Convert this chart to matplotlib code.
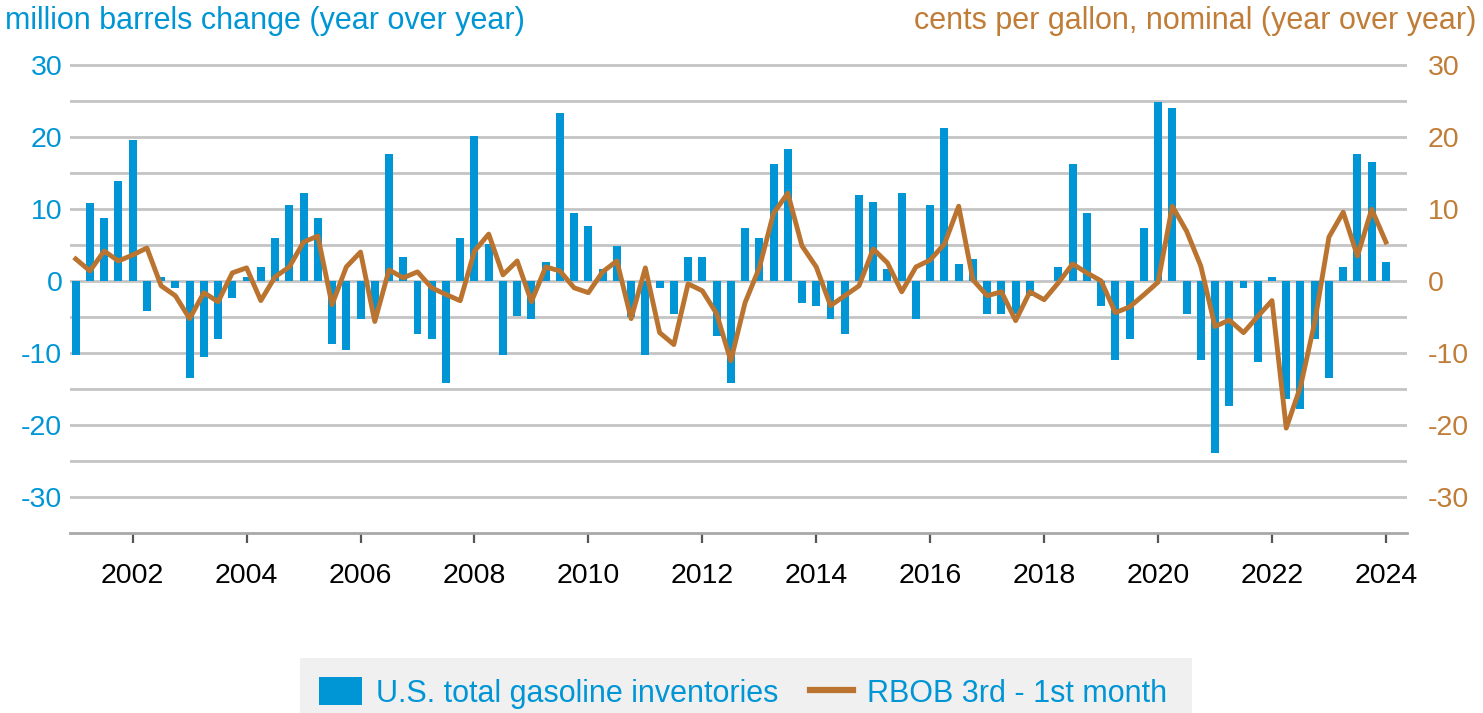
import matplotlib
matplotlib.use("Agg")
import matplotlib.pyplot as plt
import numpy as np
from matplotlib.patches import Rectangle, Patch
from matplotlib.lines import Line2D

plt.rcParams['font.family'] = ['Liberation Sans', 'DejaVu Sans']

# Quarterly observations, 2001 Q1 .. 2024 Q1
start_year = 2001.0
inventories = [
    -10.3, 10.9, 8.7, 13.85, 19.6,
    -4.2, 0.6, -0.9, -13.45, -10.55,
    -8.05, -2.35, 0.6, 1.97, 5.98,
    10.5, 12.3, 8.7, -8.75, -9.6,
    -5.2, -4.5, 17.7, 3.36, -7.4,
    -8.05, -14.15, 5.98, 20.2, 5.15,
    -10.3, -4.9, -5.2, 2.67, 23.4,
    9.43, 7.64, 1.7, 4.88, -5.0,
    -10.3, -0.9, -4.5, 3.36, 3.36,
    -7.65, -14.15, 7.36, 5.98, 16.3,
    18.4, -3.1, -3.4, -5.2, -7.4,
    11.9, 10.95, 1.7, 12.3, -5.2,
    10.5, 21.3, 2.4, 3.08, -4.5,
    -4.5, -4.5, -2.0, 0.0, 1.97,
    16.3, 9.43, -3.4, -10.95, -8.05,
    7.36, 24.9, 24.1, -4.5, -10.95,
    -23.8, -17.3, -0.9, -11.25, 0.6,
    -16.35, -17.7, -8.05, -13.45, 1.97,
    17.7, 16.6, 2.67,
]
rbob_spread = [
    3.08, 1.42, 4.18, 2.8, 3.63,
    4.6, -0.65, -2.03, -5.2, -1.6,
    -2.86, 1.15, 1.84, -2.7, 0.6,
    1.97, 5.43, 6.26, -3.27, 1.97,
    4.04, -5.6, 1.56, 0.46, 1.29,
    -0.93, -1.85, -2.72, 4.18, 6.53,
    0.87, 2.8, -2.86, 1.97, 1.42,
    -0.93, -1.6, 1.29, 2.8, -5.2,
    1.84, -7.14, -8.8, -0.37, -1.34,
    -4.5, -11.05, -3.0, 1.84, 9.43,
    12.2, 4.88, 1.97, -3.4, -2.03,
    -0.65, 4.46, 2.53, -1.48, 1.97,
    2.94, 5.15, 10.4, 0.18, -2.03,
    -1.48, -5.48, -1.48, -2.58, -0.23,
    2.39, 1.15, 0.04, -4.38, -3.58,
    -1.9, -0.14, 10.4, 6.95, 2.1,
    -6.3, -5.4, -7.15, -4.9, -2.7,
    -20.4, -14.65, -5.7, 6.12, 9.57,
    3.49, 9.98, 5.43,
]
year_ticks = list(range(2002, 2025, 2))
y_ticks = [-30, -20, -10, 0, 10, 20, 30]
grid_levels = list(range(-30, 31, 5))

left_title = "million barrels change (year over year)"
right_title = "cents per gallon, nominal (year over year)"
bar_label = "U.S. total gasoline inventories"
line_label = "RBOB 3rd - 1st month"

BLUE = '#0096D6'
COPPER = '#BB7430'
BROWN_TXT = '#C07D38'
GRID = '#C4C4C4'
FS_NUM = 20.5
FS_TXT = 22

x = start_year + 0.25 * np.arange(len(inventories))

W, H = 1483, 713
fig = plt.figure(figsize=(W / 100, H / 100), dpi=100)
ax_top_px, ax_bot_px = 61.4, 533.3
ax_l_px, ax_r_px = 70, 1407
ax = fig.add_axes([ax_l_px / W, 1 - ax_bot_px / H, (ax_r_px - ax_l_px) / W, (ax_bot_px - ax_top_px) / H])

ax.set_xlim(2000.9, 2024.37)
ax.set_ylim(-35, 30.5)

for g in grid_levels:
    ax.axhline(g, color=GRID, lw=2.0, zorder=0)

ax.bar(x, inventories, width=0.14, color=BLUE, zorder=2)

ax2 = ax.twinx()
ax2.set_ylim(-35, 30.5)
ax2.plot(x, rbob_spread, color=COPPER, lw=3.5, solid_joinstyle='round', zorder=3)

for a in (ax, ax2):
    for s in ('top', 'left', 'right'):
        a.spines[s].set_visible(False)
ax2.spines['bottom'].set_visible(False)
ax.spines['bottom'].set_color('#A8A8A8')
ax.spines['bottom'].set_linewidth(2.0)
ax.spines['bottom'].set_position(('data', -35))

ax.set_yticks(y_ticks)
ax.set_yticklabels([str(v) for v in y_ticks])
ax.tick_params(axis='y', length=0, pad=5.5, labelsize=FS_NUM, labelcolor=BLUE)
ax2.set_yticks(y_ticks)
ax2.set_yticklabels([str(v) for v in y_ticks])
ax2.tick_params(axis='y', length=0, pad=15, labelsize=FS_NUM, labelcolor=BROWN_TXT)

ax.set_xticks(year_ticks)
ax.set_xticklabels([str(v) for v in year_ticks])
ax.tick_params(axis='x', direction='out', length=7.5, width=1.6, color='#555555',
               pad=14, labelsize=FS_NUM, labelcolor='black')

fig.text(5 / W, 1 - 21 / H, left_title, color=BLUE, fontsize=FS_TXT, ha='left', va='center')
fig.text(1476 / W, 1 - 21 / H, right_title, color=BROWN_TXT, fontsize=FS_TXT, ha='right', va='center')

# legend background
fig.patches.append(Rectangle((300 / W, 0), 892 / W, 55 / H, transform=fig.transFigure,
                             facecolor='#F0F0F0', edgecolor='none', zorder=0))
handles = [Patch(facecolor=BLUE, edgecolor='none'),
           Line2D([0], [0], color=COPPER, lw=4.5)]
leg = fig.legend(handles, [bar_label, line_label], loc='center',
                 bbox_to_anchor=(743 / W, 1 - 693 / H), ncol=2,
                 frameon=False, fontsize=FS_TXT, handlelength=1.4, handleheight=1.0,
                 handletextpad=0.45, columnspacing=1.05)
for t in leg.get_texts():
    t.set_color(BLUE)

fig.savefig('out.png', dpi=100)
